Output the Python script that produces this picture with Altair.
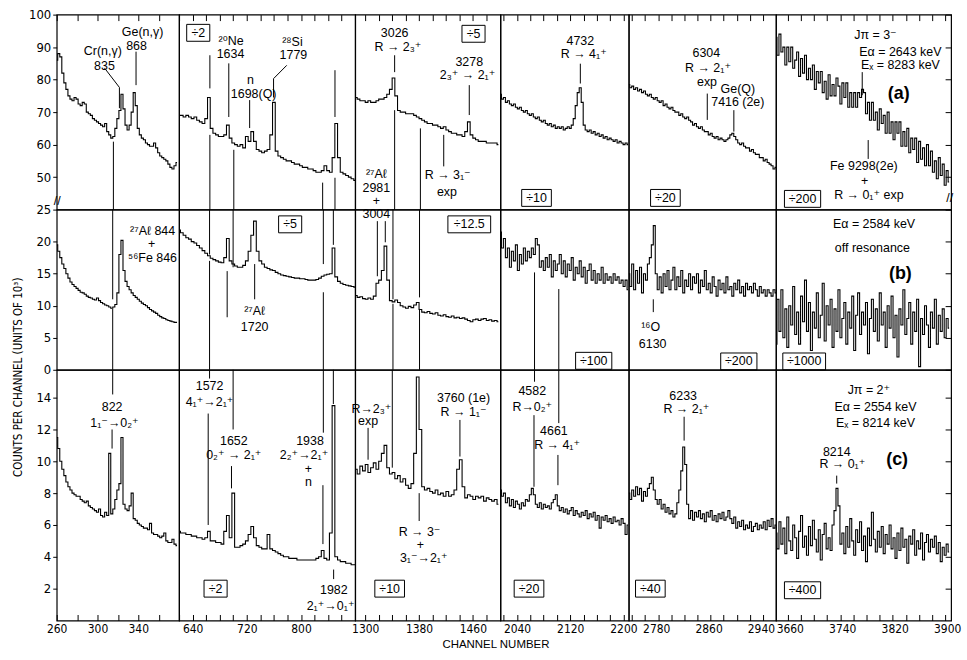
import altair as alt
import pandas as pd

# ---------------- layout of the broken axis ----------------
X_DOMAINS = [(260, 380), (620, 880), (1285, 1501), (2015, 2208), (2735, 2960), (3642, 3909)]
PANEL_W = [123, 177, 146, 129, 148, 176]
Y_DOMAINS = [(40, 100), (0, 25), (0, 15.75)]
PANEL_H = [196, 161, 252]
CH_START = [260, 620, 1286, 2015, 2735, 3642]
CH_STEP = [2, 4, 4, 3, 3, 3]
X_LABELS = [[260, 300, 340], [640, 720, 800], [1300, 1380, 1460],
            [2040, 2120, 2200], [2780, 2860, 2940], [3660, 3740, 3820, 3900]]
X_LABEL_NUDGE = [0, 0, 0, 0, -2, 2]
Y_TICKS = [[50, 60, 70, 80, 90, 100], [0, 5, 10, 15, 20, 25], [2, 4, 6, 8, 10, 12, 14]]

# ---------------- spectrum (a): E_alpha = 2643 keV ----------------
A0 = [86, 88, 87, 82, 79, 77, 75, 74, 73.5, 74.5,
      74, 72.5, 72, 73, 72.5, 70, 69.5, 69, 68, 67.5,
      67, 66.5, 66, 65.5, 66.5, 64, 63, 62, 62.5, 65,
      68, 70.5, 75.5, 71, 66, 64.5, 66, 70, 76, 72,
      65, 63, 62, 61.5, 60.5, 60, 59.5, 59.5, 60.5, 59,
      57.5, 56.5, 56, 55.5, 55, 54, 53, 52.5, 53.5, 54.5]
A1 = [69, 69, 68.5, 69, 68.5, 68, 68.5, 67.5, 67, 66.5,
      68, 74.5, 65, 63.5, 63, 62.5, 62.5, 63, 66, 62,
      60.5, 60, 59.5, 60, 59, 62.5, 61, 64, 61, 58.5,
      58, 57.5, 58, 58.5, 63, 73, 58, 56.5, 56, 55.5,
      55, 55, 54.5, 54, 54, 53.5, 53, 53, 52.5, 52.5,
      52, 51.5, 51.5, 52, 53.5, 52, 51.5, 56, 66.5, 56,
      51.5, 51, 50.5, 50, 49.5, 49]
A2 = [74.5, 74, 73.5, 73.5, 73, 73.5, 73, 73, 73.5, 74,
      74, 74.5, 75.5, 77, 80.5, 75, 70.5, 70, 70, 69.5,
      69.5, 69.5, 69, 68.5, 68, 67.5, 67, 66.5, 66.5, 66,
      66, 65.5, 65, 65.5, 64.5, 64, 63.5, 63.5, 63, 63,
      62.5, 64, 67, 63, 62, 61.5, 61, 61, 61, 60.5,
      60.5, 60.5, 60.5, 60]
A3 = [75.5, 74, 74.5, 73, 73.5, 72.5, 72, 72.5, 71.5, 71,
      71.5, 70.5, 70, 70.5, 69.5, 69, 69.5, 68.5, 68, 68.5,
      67.5, 67, 67.5, 66.5, 66, 66.5, 65.5, 66, 65, 65.5,
      65, 65.5, 64.5, 65, 65.5, 65, 66, 68, 72, 76,
      77.5, 73, 66, 64.5, 64, 64.5, 63.5, 64, 63, 63.5,
      62.5, 63, 62, 62.5, 61.5, 62, 61.5, 61, 61.5, 60.5,
      61, 60.5, 60, 60.5, 60]
A4 = [78.5, 77.5, 78, 77, 77.5, 76.5, 77, 76, 76.5, 75.5,
      75, 75.5, 74.5, 74, 74.5, 73.5, 73, 73.5, 72, 72.5,
      71.5, 71, 71.5, 70.5, 70, 70, 69, 69.5, 68.5, 68,
      68.5, 67.5, 67, 66, 66.5, 65.5, 65, 65.5, 64.5, 64,
      64, 63, 63.5, 62.5, 62, 62.5, 61.5, 62, 61.5, 61,
      61.5, 62, 63, 63.5, 62.5, 61.5, 60.5, 60, 60.5, 59.5,
      59, 59, 58, 58.5, 57.5, 57, 57, 56, 56, 55,
      55.5, 54.5, 54, 53.5, 52.5, 53]
A5 = [93, 87.5, 94, 88.5, 90, 84.5, 90, 85.5, 90, 83.5,
      86, 88.5, 81, 86.5, 82, 87.5, 80, 83.5, 80, 84.5,
      77, 82.5, 79, 82.5, 76, 79.5, 74, 81.5, 75, 78.5,
      75, 80.5, 78, 72.5, 79, 74.5, 79, 71.5, 76, 71.5,
      76, 71.5, 76, 74.5, 77, 76, 69.5, 73, 67.5, 73,
      67.5, 70, 64.5, 71, 66.5, 69, 63.5, 70, 63.5, 67,
      61.5, 67, 63.5, 67, 59.5, 64, 59.5, 65, 57.5, 62,
      58.5, 62, 54.5, 61, 55.5, 59, 53.5, 60, 53.5, 58,
      51.5, 55, 49.5, 56, 50.5, 54, 47.5, 52, 48.5]

# ---------------- spectrum (b): off resonance ----------------
B0 = [19.5, 18.5, 17.5, 16.5, 15.8, 15, 14.3, 13.7, 13.3, 13,
      12.7, 12.4, 12.1, 12, 11.8, 11.5, 11.3, 11.2, 11, 10.9,
      11.2, 10.8, 10.5, 10.3, 10.1, 10, 9.8, 9.6, 9.8, 10.2,
      12, 18, 20.2, 15.5, 13.8, 13, 12.5, 12, 11.6, 11.3,
      11, 10.7, 10.4, 10.2, 10, 9.7, 9.4, 9.2, 9, 8.8,
      8.5, 8.3, 8.1, 8, 7.8, 7.7, 7.6, 7.5, 7.4, 7.4]
B1 = [21.8, 21.4, 21, 20.6, 20.4, 20, 19.8, 19.4, 19, 18.6,
      18.2, 17.8, 17.4, 17.2, 17, 16.8, 16.7, 17.5, 20.5, 17,
      16.5, 16.2, 16, 16, 16.3, 17, 18.5, 21, 23.2, 18.5,
      17, 16.5, 16, 15.8, 15.6, 15.5, 15.2, 15, 14.8, 14.7,
      14.6, 14.5, 14.4, 14.3, 14.3, 14.2, 14.2, 14.1, 14, 14,
      14, 14.1, 14.3, 14.6, 14.8, 14.9, 15, 19, 14.5, 13.8,
      13.5, 13.3, 13.2, 13.1, 13, 12.9]
B2 = [11.6, 11.3, 11.4, 11.1, 11, 11.2, 11, 11.5, 13.5, 14,
      15.5, 19.3, 14, 10.8, 10.6, 10.9, 10.5, 10, 9.8, 9.6,
      9.9, 9.7, 10.1, 10.5, 9.4, 9, 8.9, 9.1, 8.8, 8.7,
      8.9, 8.5, 8.4, 8.6, 8.3, 8.2, 8.4, 8.1, 8.2, 8,
      8.1, 7.9, 7.7, 7.5, 7.8, 7.9, 7.7, 7.9, 8, 7.7,
      7.8, 7.6, 7.7, 7.5]
B3 = [21.5, 19, 20.5, 17.5, 19, 16, 18.5, 17, 19.5, 15.5,
      18, 16.5, 19, 17, 18.5, 17.5, 19, 18, 20.5, 19.5,
      16, 17, 15.5, 17.5, 16, 18, 14.5, 17, 15.5, 16.5,
      18, 15, 17, 14.5, 16.5, 15.5, 17.5, 14, 16, 15,
      17, 14.5, 16, 13.5, 15.5, 16.5, 14, 15.5, 13.5, 15,
      14, 16, 13.5, 15, 14, 14.5, 13.5, 15, 14, 14.5,
      13.5, 14, 13, 14, 12.5]
B4 = [15, 13, 16.5, 12.5, 15.5, 13.5, 16, 12, 15, 14,
      16.5, 17.5, 19.5, 22.5, 15, 12.5, 14.5, 12, 15, 13,
      15.5, 12.5, 14, 16, 12.5, 14.5, 13, 15.5, 12, 14,
      13, 15, 12.5, 14.5, 13.5, 15, 12, 14, 13, 15.5,
      12.5, 13.5, 12, 14.5, 13, 11.5, 14, 12.5, 13.5, 12,
      14.5, 12.5, 13, 11.5, 13.5, 12.5, 14, 12, 13, 11.5,
      13.5, 12.5, 13, 12, 13.5, 12.5, 11.5, 13, 12, 12.5,
      11.5, 12.5, 12, 11.5, 12.5, 12]
B5 = [4, 11, 6, 12.5, 5, 9.5, 3.5, 10, 7, 13,
      5.5, 9, 4, 11.5, 7.5, 14, 6, 10.5, 3, 9,
      6.5, 12, 5, 8.5, 13.5, 4.5, 10, 7, 11, 3.5,
      9.5, 6, 12.5, 5, 8, 10.5, 4, 9, 6.5, 11.5,
      3, 8.5, 12, 5.5, 9, 7, 10.5, 2.5, 8, 11,
      6, 9.5, 4.5, 12, 7, 9, 3.5, 10, 6.5, 11.5,
      5, 8.5, 2, 9.5, 7, 12.5, 5.5, 8, 10.5, 4,
      9, 6, 11, 0.5, 8, 5.5, 10, 7, 3.5, 9,
      6.5, 11, 4, 8.5, 6, 9.5, 5, 8, 6.5]

# ---------------- spectrum (c): E_alpha = 2554 keV ----------------
C0 = [11.5, 10.8, 10, 9.5, 9.1, 8.7, 8.4, 8.2, 8, 7.9,
      7.8, 7.8, 7.6, 7.5, 7.4, 7.5, 7.2, 7.1, 7, 6.9,
      6.8, 7, 6.6, 6.5, 6.8, 6.6, 10.5, 6.7, 7, 7.6,
      8.2, 8.6, 11.5, 7.3, 7, 6.9, 7.2, 8, 6.4, 6.3,
      6.1, 6, 5.9, 5.8, 5.8, 5.7, 6.1, 5.5, 5.4, 5.4,
      5.3, 5.2, 5.3, 5.5, 5, 4.9, 4.9, 5.1, 4.8, 4.7]
C1 = [5.6, 5.5, 5.5, 5.4, 5.4, 5.3, 5.3, 5.2, 5.2, 5.1,
      5.2, 5.6, 5, 5, 4.9, 4.9, 4.8, 5.6, 6.6, 5.2,
      8, 4.6, 4.6, 4.7, 4.8, 5, 5.4, 5.9, 5.2, 4.7,
      4.6, 4.5, 4.5, 5.4, 4.5, 4.4, 4.3, 4.2, 4.1, 4,
      4, 3.9, 3.9, 3.9, 3.8, 3.8, 3.8, 3.8, 3.8, 3.8,
      3.8, 3.9, 4, 4.4, 3.9, 3.8, 5.5, 13.5, 4, 3.8,
      3.7, 3.7, 3.6, 3.6, 3.5, 3.5]
C2 = [9.5, 9.2, 9.7, 9.4, 9.8, 9.3, 9.6, 9.9, 9.5, 10,
      10.5, 11, 9.6, 9.2, 9.3, 8.9, 9.1, 8.7, 8.9, 8.5,
      8.3, 8.6, 10.5, 15.3, 12, 8.4, 8.2, 8.3, 8.1, 8,
      8.2, 7.9, 8, 7.8, 8.1, 7.8, 7.9, 8.2, 9.5, 10.1,
      8.4, 7.7, 7.9, 7.8, 7.6, 7.8, 7.7, 7.8, 7.5, 7.7,
      7.6, 7.5, 7.6, 7.3]
C3 = [8.2, 7.8, 8, 7.4, 7.7, 7.2, 7.6, 7.1, 7.5, 7.3,
      7, 7.4, 7.2, 7.6, 7.5, 7.9, 8.3, 7.9, 7.3, 7.1,
      7.4, 7, 7.3, 7.1, 7.2, 7, 7.4, 7.6, 7.9, 7.2,
      6.9, 7.1, 6.8, 7, 6.7, 6.9, 7.1, 6.6, 6.9, 6.7,
      6.5, 6.8, 6.6, 6.9, 6.4, 6.7, 6.5, 6.8, 6.3, 6.6,
      5.8, 6.5, 6.3, 6.6, 6.2, 6.4, 6.1, 6.5, 6.2, 6.3,
      6, 6.4, 6.1, 5.4, 6]
C4 = [8, 7.6, 8.2, 7.8, 8.4, 7.9, 8.3, 7.5, 8.1, 7.8,
      8.3, 8.6, 9, 8.2, 7.6, 7.3, 7.6, 7, 7.3, 6.8,
      7.1, 6.7, 6.9, 6.5, 6.7, 7.4, 8.2, 9.4, 10.9, 9.8,
      7.3, 6.4, 6.9, 6.3, 6.8, 6.5, 6.9, 6.4, 6.7, 6.2,
      6.8, 6.5, 6.9, 6.3, 6.6, 6.2, 6.7, 6.4, 6.8, 6.3,
      6.5, 6.9, 6.4, 6.1, 6.5, 5.8, 6.2, 5.9, 6.3, 5.7,
      6, 5.8, 6.2, 5.6, 5.9, 6.1, 5.7, 6, 5.8, 6.2,
      5.7, 6.3, 5.9, 6.4, 5.8, 6]
C5 = [5.5, 4.5, 6.2, 4.8, 5.8, 4.2, 6.5, 5, 4.4, 6,
      5.2, 3.9, 5.6, 6.6, 4.6, 5.3, 4.1, 5.9, 4.7, 6.3,
      5.1, 4.3, 5.7, 3.8, 5.4, 6.1, 4.5, 5.2, 4.4, 6,
      6.9, 8.3, 7.2, 4.8, 5.5, 4.2, 5.9, 4.6, 6.4, 5,
      4.1, 5.7, 4.9, 6.2, 4.4, 5.3, 3.7, 5.8, 4.7, 6.8,
      5.1, 4.3, 5.6, 4.6, 5.9, 4.2, 5.4, 4.8, 6, 4.5,
      5.2, 3.9, 5.5, 4.4, 5.8, 4.6, 5.1, 3.6, 5.3, 4.8,
      5.7, 4.1, 5, 4.5, 5.5, 3.8, 4.9, 5.4, 4.3, 5.1,
      4.6, 5.3, 4.2, 4.9, 3.7, 4.6, 4.1, 4.8, 4.3]

SPECTRA = [[A0, A1, A2, A3, A4, A5], [B0, B1, B2, B3, B4, B5], [C0, C1, C2, C3, C4, C5]]

# ---------------- annotations (row, column, channel, counts, text) ----------------
TEXTS = [
    (0, 0, 305.2, 88.8, "Cr(n,γ)"), (0, 0, 306.8, 84.3, "835"),
    (0, 0, 344.2, 94.6, "Ge(n,γ)"), (0, 0, 338.3, 90.3, "868"),
    (0, 0, 260.6, 42.6, "//"),
    (0, 1, 696.8, 92.0, "²⁰Ne"), (0, 1, 695.9, 88.0, "1634"),
    (0, 1, 725.3, 79.8, "n"), (0, 1, 730.1, 75.6, "1698(Q)"),
    (0, 1, 787.4, 91.6, "²⁸Si"), (0, 1, 788.8, 87.6, "1779"),
    (0, 2, 1343.7, 94.4, "3026"), (0, 2, 1348.6, 90.0, "R → 2₃⁺"),
    (0, 2, 1454.7, 85.4, "3278"), (0, 2, 1452.2, 81.3, "2₃⁺ → 2₁⁺"),
    (0, 2, 1422.6, 50.7, "R → 3₁⁻"), (0, 2, 1421.5, 45.3, "exp"),
    (0, 2, 1316.5, 51.0, "²⁷Aℓ"), (0, 2, 1316.5, 46.5, "2981"),
    (0, 2, 1316.5, 42.6, "+"), (0, 2, 1316.5, 38.6, "3004"),
    (0, 3, 2135.2, 92.0, "4732"), (0, 3, 2140.3, 88.0, "R → 4₁⁺"),
    (0, 4, 2853.5, 88.2, "6304"), (0, 4, 2856.1, 83.6, "R → 2₁⁺"),
    (0, 4, 2854.6, 79.3, "exp"), (0, 4, 2901.7, 77.0, "Ge(Q)"),
    (0, 4, 2901.7, 73.2, "7416 (2e)"),
    (0, 5, 3793.7, 93.6, "Jπ = 3⁻"), (0, 5, 3831.7, 88.5, "Eα = 2643 keV"),
    (0, 5, 3831.7, 84.5, "Eₓ = 8283 keV"), (0, 5, 3776.0, 53.3, "Fe 9298(2e)"),
    (0, 5, 3777.0, 48.9, "+"), (0, 5, 3783.6, 44.5, "R → 0₁⁺ exp"),
    (0, 5, 3907.0, 43.5, "//"),
    (1, 0, 354.0, 21.6, "²⁷Aℓ 844"), (1, 0, 353.0, 19.6, "+"),
    (1, 0, 354.0, 17.5, "⁵⁶Fe 846"),
    (1, 1, 731.6, 9.2, "²⁷Aℓ"), (1, 1, 731.6, 6.6, "1720"),
    (1, 4, 2768.4, 6.6, "¹⁶O"), (1, 4, 2771.5, 4.0, "6130"),
    (1, 5, 3791.5, 22.7, "Eα = 2584 keV"), (1, 5, 3789.0, 19.0, "off resonance"),
    (2, 0, 314.3, 13.4, "822"), (2, 0, 316.6, 12.4, "1₁⁻→0₂⁺"),
    (2, 1, 665.1, 14.7, "1572"), (2, 1, 665.0, 13.7, "4₁⁺→2₁⁺"),
    (2, 1, 700.8, 11.3, "1652"), (2, 1, 700.8, 10.4, "0₂⁺ → 2₁⁺"),
    (2, 1, 813.3, 11.3, "1938"), (2, 1, 804.5, 10.4, "2₂⁺→2₁⁺"),
    (2, 1, 810.9, 9.5, "+"), (2, 1, 810.9, 8.7, "n"),
    (2, 1, 848.5, 1.9, "1982"), (2, 1, 843.7, 0.9, "2₁⁺→0₁⁺"),
    (2, 2, 1309.1, 13.3, "R→2₃⁺"), (2, 2, 1304.2, 12.5, "exp"),
    (2, 2, 1446.2, 14.0, "3760 (1e)"), (2, 2, 1446.2, 13.1, "R → 1₁⁻"),
    (2, 2, 1380.7, 5.55, "R → 3⁻"), (2, 2, 1382.0, 4.75, "+"),
    (2, 2, 1387.0, 3.9, "3₁⁻→2₁⁺"),
    (2, 3, 2062.9, 14.4, "4582"), (2, 3, 2062.9, 13.4, "R→0₂⁺"),
    (2, 3, 2095.4, 11.9, "4661"), (2, 3, 2100.3, 11.0, "R → 4₁⁺"),
    (2, 4, 2818.1, 14.1, "6233"), (2, 4, 2823.1, 13.3, "R → 2₁⁺"),
    (2, 5, 3783.6, 14.5, "Jπ = 2⁺"), (2, 5, 3793.7, 13.4, "Eα = 2554 keV"),
    (2, 5, 3793.7, 12.4, "Eₓ = 8214 keV"), (2, 5, 3734.6, 10.6, "8214"),
    (2, 5, 3743.2, 9.8, "R → 0₁⁺"),
]
TAGS = [(0, 5, 3829.1, 75.7, "(a)"), (1, 5, 3831.7, 14.9, "(b)"), (2, 5, 3826.7, 10.1, "(c)")]
BOXES = [
    (0, 1, 648.3, 94.4, "÷2"), (0, 2, 1461.0, 94.1, "÷5"), (0, 3, 2069.3, 43.6, "÷10"),
    (0, 4, 2791.0, 43.6, "÷20"), (0, 5, 3682.5, 43.3, "÷200"),
    (1, 1, 784.0, 22.7, "÷5"), (1, 2, 1454.7, 22.7, "÷12.5"), (1, 3, 2155.3, 1.4, "÷100"),
    (1, 4, 2903.2, 1.3, "÷200"), (1, 5, 3685.0, 1.3, "÷1000"),
    (2, 1, 673.9, 2.0, "÷2"), (2, 2, 1336.3, 2.0, "÷10"), (2, 3, 2058.0, 2.0, "÷20"),
    (2, 4, 2768.0, 2.0, "÷40"), (2, 5, 3682.5, 1.9, "÷400"),
]
# leader lines: (row, column, channel1, counts1, channel2, counts2)
LEADERS = [
    (0, 0, 306.8, 83.6, 321.5, 77.6), (0, 0, 321.5, 77.6, 321.5, 71.2),
    (0, 0, 337.8, 88.6, 337.8, 78.3), (0, 0, 315.6, 60.9, 315.6, 40),
    (0, 1, 665.5, 87.5, 665.5, 77.3), (0, 1, 665.5, 63, 665.5, 40),
    (0, 1, 693.4, 85, 693.4, 68.5), (0, 1, 700.8, 58.4, 700.8, 40),
    (0, 1, 724.2, 73.7, 724.2, 65.1), (0, 1, 779, 84.4, 759.5, 80.3),
    (0, 1, 759.5, 80.3, 759.5, 74.5), (0, 1, 832, 48.3, 832, 40),
    (0, 1, 850.2, 82.9, 850.2, 68.5), (0, 1, 850.2, 49.8, 850.2, 40),
    (0, 2, 1343.7, 87.5, 1343.7, 82.3), (0, 2, 1343.7, 70.6, 1343.7, 40),
    (0, 2, 1454.7, 78.3, 1454.7, 69.1), (0, 2, 1416.7, 63, 1416.7, 53.3),
    (0, 2, 1382, 65, 1382, 40),
    (0, 3, 2135.2, 84.9, 2135.2, 78.8),
    (0, 4, 2855, 75.7, 2855, 67.6), (0, 4, 2895.6, 70.6, 2895.6, 64),
    (0, 5, 3773.5, 82.3, 3773.5, 75.2), (0, 5, 3782.6, 61.4, 3782.6, 55.6),
    (1, 0, 314.9, 25, 314.9, 11), (1, 0, 314.9, 9.5, 314.9, 0),
    (1, 1, 665, 25, 665, 18), (1, 1, 665, 17, 665, 0),
    (1, 1, 699.8, 25, 699.8, 16), (1, 1, 691, 15.4, 691, 8.2),
    (1, 1, 731.6, 16.5, 731.6, 11), (1, 1, 833, 25, 833, 16.5),
    (1, 1, 833, 12.1, 833, 0), (1, 1, 847.8, 25, 847.8, 19.5),
    (1, 2, 1318, 23.2, 1318, 14.6), (1, 2, 1329.8, 23.2, 1329.8, 19.9),
    (1, 2, 1341.2, 25, 1341.2, 11), (1, 2, 1341.2, 10.3, 1341.2, 0),
    (1, 2, 1380.7, 25, 1380.7, 11.3), (1, 2, 1380.7, 9.5, 1380.7, 0),
    (1, 3, 2066.3, 15.2, 2066.3, 0), (1, 3, 2102.8, 12.6, 2102.8, 0),
    (1, 4, 2772.5, 11, 2772.5, 9),
    (2, 0, 314.9, 15.75, 314.9, 14.2), (2, 0, 314.3, 12, 314.3, 10.8),
    (2, 1, 665, 15.75, 665, 15.2), (2, 1, 663, 13, 663, 6),
    (2, 1, 699.8, 15.75, 699.8, 12), (2, 1, 697.4, 9.7, 697.4, 8.3),
    (2, 1, 833, 15.75, 833, 11.8), (2, 1, 832.4, 8.5, 832.4, 4.8),
    (2, 1, 847.8, 15.75, 847.8, 13.6), (2, 1, 848.2, 3.2, 848.2, 2.6),
    (2, 2, 1304.2, 12.1, 1304.2, 10.1), (2, 2, 1340.2, 15.75, 1340.2, 9.6),
    (2, 2, 1380.2, 8, 1380.2, 6.25), (2, 2, 1440.8, 12.6, 1440.8, 10.3),
    (2, 3, 2066.3, 15.75, 2066.3, 15), (2, 3, 2065.5, 12.9, 2065.5, 8.4),
    (2, 3, 2102.8, 15.75, 2102.8, 12.4), (2, 3, 2101.5, 10.4, 2101.5, 8.5),
    (2, 4, 2819.6, 12.8, 2819.6, 11.3),
    (2, 5, 3734.6, 9.1, 3734.6, 8.6),
]

Y_TITLE = "COUNTS PER CHANNEL (UNITS OF 10³)"
X_TITLE = "CHANNEL NUMBER"

TXT_FONT = "Liberation Sans, DejaVu Sans, sans-serif"
AX_FONT = "Liberation Sans Narrow, DejaVu Sans Condensed, Liberation Sans, sans-serif"
BOX_H = 17.0


def box_path(label):
    r = BOX_H / 2.0
    hw = (10 + 6.6 * len(label)) / 2.0 / r
    return f"M{-hw:.3f},-1H{hw:.3f}V1H{-hw:.3f}Z"


def tick_values(c):
    lo, hi = X_DOMAINS[c]
    first = -(-int(lo) // 20) * 20
    return [v for v in range(first, int(hi), 20) if v < hi - 1]


def axes_for(r, c):
    if r == 2:
        labs = X_LABELS[c]
        xaxis = alt.Axis(orient="bottom", values=tick_values(c), format="d",
                         labelExpr=f"indexof({labs}, datum.value) >= 0 ? datum.label : ''",
                         offset=-6, tickSize=6, domain=False, grid=False,
                         labelFont=AX_FONT, labelFontSize=12, labelPadding=3,
                         labelOffset=X_LABEL_NUDGE[c],
                         labelOverlap=False, labelFlush=False,
                         title=X_TITLE if c == 2 else None,
                         titleFont=TXT_FONT, titleFontSize=11.5, titleFontWeight="normal",
                         titleX=141, titlePadding=4)
    elif r == 0:
        xaxis = alt.Axis(orient="top", values=tick_values(c), labels=False, offset=-6,
                         tickSize=6, domain=False, grid=False, title=None)
    else:
        xaxis = None

    if c == 0:
        yaxis = alt.Axis(orient="left", values=Y_TICKS[r], format="d", tickSize=4,
                         labelPadding=2, domain=False, grid=False,
                         labelFont=AX_FONT, labelFontSize=13, labelOverlap=False,
                         labelFlush=False,
                         title=Y_TITLE if r == 1 else None,
                         titleFont=AX_FONT, titleFontSize=11.5, titleFontWeight="normal",
                         titleX=-38, titleY=168, titleBaseline="middle", titleAngle=270)
    elif c == 5:
        yaxis = alt.Axis(orient="right", values=Y_TICKS[r], labels=False, offset=-6,
                         tickSize=6, domain=False, grid=False, title=None)
    else:
        yaxis = None
    return xaxis, yaxis


def panel(r, c):
    lo, hi = X_DOMAINS[c]
    ylo, yhi = Y_DOMAINS[r]
    xaxis, yaxis = axes_for(r, c)

    def X():
        return alt.X("x:Q", scale=alt.Scale(domain=[lo, hi], nice=False, zero=False), axis=xaxis)

    def Y():
        return alt.Y("y:Q", scale=alt.Scale(domain=[ylo, yhi], nice=False, zero=False), axis=yaxis)

    vals = SPECTRA[r][c]
    spec = pd.DataFrame({"x": [CH_START[c] + CH_STEP[c] * i for i in range(len(vals))],
                         "y": vals})
    layers = [alt.Chart(spec).mark_line(interpolate="step", color="black",
                                        strokeWidth=1.1, clip=True).encode(x=X(), y=Y())]

    lead = [dict(x=a, y=b, x2=cc, y2=d) for (rr, ccol, a, b, cc, d) in LEADERS
            if rr == r and ccol == c]
    if lead:
        layers.append(alt.Chart(pd.DataFrame(lead)).mark_rule(
            color="black", strokeWidth=1).encode(x=X(), x2="x2:Q", y=Y(), y2="y2:Q"))

    txt = [dict(x=a, y=b, t=t) for (rr, ccol, a, b, t) in TEXTS + BOXES
           if rr == r and ccol == c]
    if txt:
        layers.append(alt.Chart(pd.DataFrame(txt)).mark_text(
            font=TXT_FONT, fontSize=12.5, color="black").encode(x=X(), y=Y(), text="t:N"))

    bx = [dict(x=a, y=b, s=box_path(t)) for (rr, ccol, a, b, t) in BOXES
          if rr == r and ccol == c]
    if bx:
        layers.append(alt.Chart(pd.DataFrame(bx)).mark_point(
            filled=False, color="black", strokeWidth=1, size=BOX_H * BOX_H, opacity=1).encode(
            x=X(), y=Y(), shape=alt.Shape("s:N", scale=None)))

    tg = [dict(x=a, y=b, t=t) for (rr, ccol, a, b, t) in TAGS if rr == r and ccol == c]
    if tg:
        layers.append(alt.Chart(pd.DataFrame(tg)).mark_text(
            font=TXT_FONT, fontSize=18, fontWeight="bold", color="black").encode(
            x=X(), y=Y(), text="t:N"))

    return alt.layer(*layers).properties(width=PANEL_W[c], height=PANEL_H[r])


panels = [panel(r, c) for r in range(3) for c in range(6)]

chart = alt.concat(*panels, columns=6, spacing=0, bounds="flush", align="each").properties(
    padding={"left": 12, "top": 6, "right": 5, "bottom": 2},
    background="white",
).configure_view(stroke="black", strokeWidth=1.2).configure_axis(
    labelColor="black", tickColor="black", tickWidth=1, titleColor="black")

chart.save("out.html", embed_options={"renderer": "svg", "actions": False})
